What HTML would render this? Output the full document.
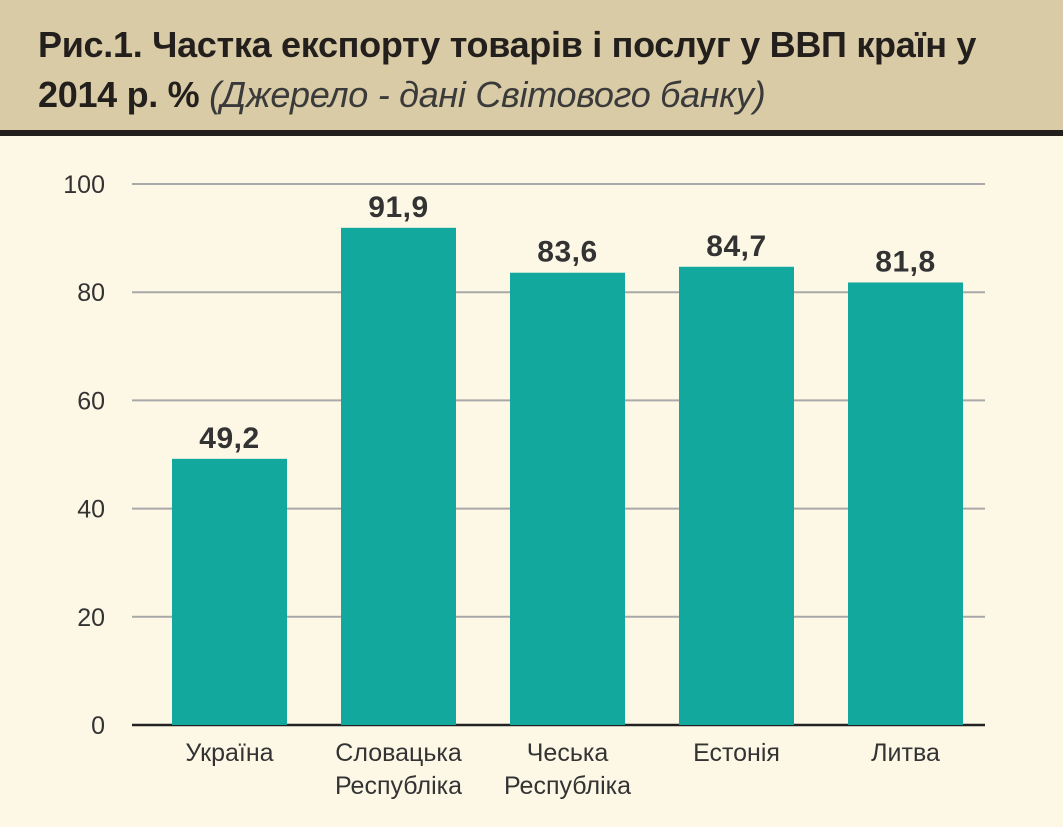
<!DOCTYPE html>
<html><head><meta charset="utf-8"><style>
body{margin:0;width:1063px;height:827px;background:#fdf8e6;font-family:"Liberation Sans",sans-serif;overflow:hidden;position:relative}
#hdr{position:absolute;left:0;top:0;width:1063px;height:130px;background:#d9cba6;border-bottom:6px solid #231f1d}
#title{position:absolute;left:38px;top:20px;font-size:36px;font-weight:bold;color:#231f1d;line-height:50px;width:1020px;letter-spacing:-0.3px}
#title i{font-weight:normal;color:#3a3a3a}
</style></head><body>
<div id="hdr"><div id="title">Рис.1. Частка експорту товарів і послуг у ВВП країн у 2014 р. % <i>(Джерело - дані Світового банку)</i></div></div>
<svg id="c" width="1063" height="827" style="position:absolute;left:0;top:0"></svg>
<script>
const categories=[["Україна"],["Словацька","Республіка"],["Чеська","Республіка"],["Естонія"],["Литва"]];
const values=[49.2,91.9,83.6,84.7,81.8];
const valueLabels=["49,2","91,9","83,6","84,7","81,8"];
const ticks=[0,20,40,60,80,100];
const NS="http://www.w3.org/2000/svg",svg=document.getElementById('c');
const y=v=>725-v*5.41, x=i=>229.5+i*169;
function mk(t,a,txt){const e=document.createElementNS(NS,t);for(const k in a)e.setAttribute(k,a[k]);if(txt!=null)e.textContent=txt;svg.appendChild(e);return e;}
ticks.forEach(t=>{
 const l=mk('line',{x1:132,x2:985,y1:y(t),y2:y(t),stroke:t?'#a8a8a8':'#222','stroke-width':t?2:2.5});
 
 
 const tx=mk('text',{x:105,y:y(t)+9,'text-anchor':'end','font-size':25,fill:'#333'},t);
 
 
});
values.forEach((v,i)=>{
 const r=mk('rect',{x:x(i)-57.5,y:y(v),width:115,height:y(0)-y(v),fill:'#13a89e'});
 
 
 const t=mk('text',{x:x(i),y:y(v)-11,'text-anchor':'middle','font-size':30,'font-weight':'bold',fill:'#333','letter-spacing':'0.5'},valueLabels[i]);
 
 
 categories[i].forEach((s,j)=>{
  const c=mk('text',{x:x(i),y:761+j*33,'text-anchor':'middle','font-size':25,fill:'#333'},s);
  
  
 });
});
</script>
</body></html>
